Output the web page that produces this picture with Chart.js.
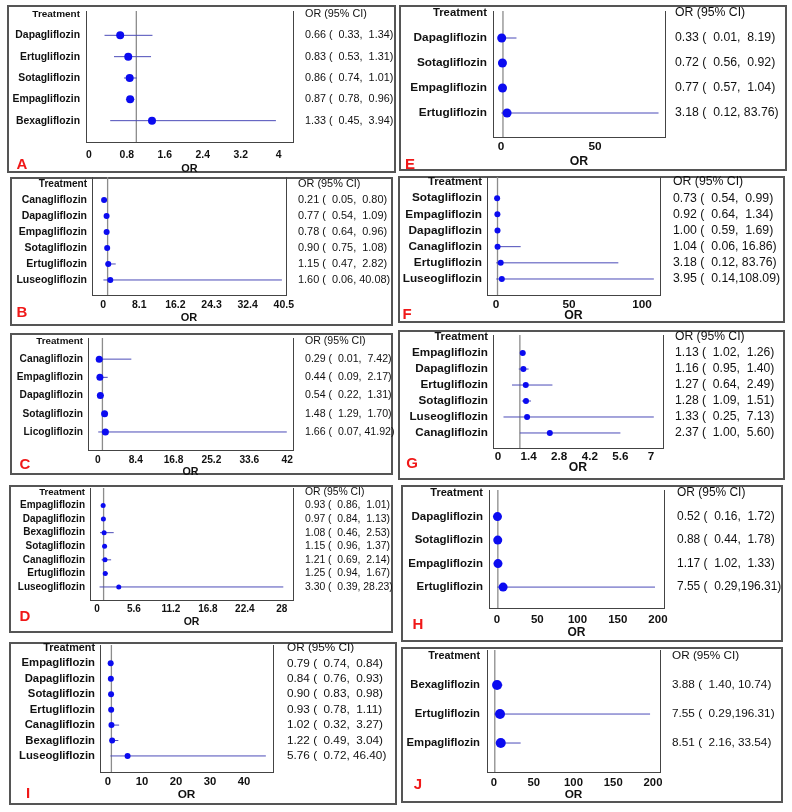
<!DOCTYPE html>
<html lang="en">
<head>
<meta charset="UTF-8">
<title>Forest plots</title>
<script src="https://cdn.jsdelivr.net/npm/chart.js"></script>
<style>
  body { margin: 0; background: #fff; }
  #page { position: relative; width: 792px; height: 812px; overflow: hidden; }
  .box { position: absolute; box-sizing: border-box; border: 2px solid #555; }
  .wrap { position: absolute; }
  .tag { position: absolute; color: #f01818; font: bold 15px "Liberation Sans", Arial, sans-serif; transform: translate(-50%, -50%); }
</style>
</head>
<body>
<div id="page"></div>
<script>
// ---- data ----
const aNames = ['Dapagliflozin', 'Ertugliflozin', 'Sotagliflozin', 'Empagliflozin', 'Bexagliflozin'];
const aOR = [0.66, 0.83, 0.86, 0.87, 1.33];
const aLow = [0.33, 0.53, 0.74, 0.78, 0.45];
const aHigh = [1.34, 1.31, 1.01, 0.96, 3.94];
const aTicks = [0, 0.8, 1.6, 2.4, 3.2, 4];

const bNames = ['Canagliflozin', 'Dapagliflozin', 'Empagliflozin', 'Sotagliflozin', 'Ertugliflozin', 'Luseogliflozin'];
const bOR = [0.21, 0.77, 0.78, 0.90, 1.15, 1.60];
const bLow = [0.05, 0.54, 0.64, 0.75, 0.47, 0.06];
const bHigh = [0.80, 1.09, 0.96, 1.08, 2.82, 40.08];
const bTicks = [0, 8.1, 16.2, 24.3, 32.4, 40.5];

const cNames = ['Canagliflozin', 'Empagliflozin', 'Dapagliflozin', 'Sotagliflozin', 'Licogliflozin'];
const cOR = [0.29, 0.44, 0.54, 1.48, 1.66];
const cLow = [0.01, 0.09, 0.22, 1.29, 0.07];
const cHigh = [7.42, 2.17, 1.31, 1.70, 41.92];
const cTicks = [0, 8.4, 16.8, 25.2, 33.6, 42];

const dNames = ['Empagliflozin', 'Dapagliflozin', 'Bexagliflozin', 'Sotagliflozin', 'Canagliflozin', 'Ertugliflozin', 'Luseogliflozin'];
const dOR = [0.93, 0.97, 1.08, 1.15, 1.21, 1.25, 3.30];
const dLow = [0.86, 0.84, 0.46, 0.96, 0.69, 0.94, 0.39];
const dHigh = [1.01, 1.13, 2.53, 1.37, 2.14, 1.67, 28.23];
const dTicks = [0, 5.6, 11.2, 16.8, 22.4, 28];

const eNames = ['Dapagliflozin', 'Sotagliflozin', 'Empagliflozin', 'Ertugliflozin'];
const eOR = [0.33, 0.72, 0.77, 3.18];
const eLow = [0.01, 0.56, 0.57, 0.12];
const eHigh = [8.19, 0.92, 1.04, 83.76];
const eTicks = [0, 50];

const fNames = ['Sotagliflozin', 'Empagliflozin', 'Dapagliflozin', 'Canagliflozin', 'Ertugliflozin', 'Luseogliflozin'];
const fOR = [0.73, 0.92, 1.00, 1.04, 3.18, 3.95];
const fLow = [0.54, 0.64, 0.59, 0.06, 0.12, 0.14];
const fHigh = [0.99, 1.34, 1.69, 16.86, 83.76, 108.09];
const fTicks = [0, 50, 100];

const gNames = ['Empagliflozin', 'Dapagliflozin', 'Ertugliflozin', 'Sotagliflozin', 'Luseogliflozin', 'Canagliflozin'];
const gOR = [1.13, 1.16, 1.27, 1.28, 1.33, 2.37];
const gLow = [1.02, 0.95, 0.64, 1.09, 0.25, 1.00];
const gHigh = [1.26, 1.40, 2.49, 1.51, 7.13, 5.60];
const gTicks = [0, 1.4, 2.8, 4.2, 5.6, 7];

const hNames = ['Dapagliflozin', 'Sotagliflozin', 'Empagliflozin', 'Ertugliflozin'];
const hOR = [0.52, 0.88, 1.17, 7.55];
const hLow = [0.16, 0.44, 1.02, 0.29];
const hHigh = [1.72, 1.78, 1.33, 196.31];
const hTicks = [0, 50, 100, 150, 200];

const iNames = ['Empagliflozin', 'Dapagliflozin', 'Sotagliflozin', 'Ertugliflozin', 'Canagliflozin', 'Bexagliflozin', 'Luseogliflozin'];
const iOR = [0.79, 0.84, 0.90, 0.93, 1.02, 1.22, 5.76];
const iLow = [0.74, 0.76, 0.83, 0.78, 0.32, 0.49, 0.72];
const iHigh = [0.84, 0.93, 0.98, 1.11, 3.27, 3.04, 46.40];
const iTicks = [0, 10, 20, 30, 40];

const jNames = ['Bexagliflozin', 'Ertugliflozin', 'Empagliflozin'];
const jOR = [3.88, 7.55, 8.51];
const jLow = [1.40, 0.29, 2.16];
const jHigh = [10.74, 196.31, 33.54];
const jTicks = [0, 50, 100, 150, 200];

const nullOR = 1; // reference line

const panels = [
  { id: 'A', names: aNames, or: aOR, lo: aLow, hi: aHigh, ticks: aTicks },
  { id: 'B', names: bNames, or: bOR, lo: bLow, hi: bHigh, ticks: bTicks },
  { id: 'C', names: cNames, or: cOR, lo: cLow, hi: cHigh, ticks: cTicks },
  { id: 'D', names: dNames, or: dOR, lo: dLow, hi: dHigh, ticks: dTicks },
  { id: 'I', names: iNames, or: iOR, lo: iLow, hi: iHigh, ticks: iTicks },
  { id: 'E', names: eNames, or: eOR, lo: eLow, hi: eHigh, ticks: eTicks },
  { id: 'F', names: fNames, or: fOR, lo: fLow, hi: fHigh, ticks: fTicks },
  { id: 'G', names: gNames, or: gOR, lo: gLow, hi: gHigh, ticks: gTicks },
  { id: 'H', names: hNames, or: hOR, lo: hLow, hi: hHigh, ticks: hTicks },
  { id: 'J', names: jNames, or: jOR, lo: jLow, hi: jHigh, ticks: jTicks }
];

// ---- layout (page pixels) ----
// box: panel frame, plot: [left, top, right, bottom] of plot area
const geo = {
  A: { box: [7, 5, 396, 173],   plot: [86, 11, 293, 142],   x: [-0.06, 4.3],  y: [-0.14, 6.0],  tickY: 155, titleY: 169, nameEnd: 80,  ciX: 305, tag: [22, 163],  font: 10.4, r: 4 },
  E: { box: [399, 5, 787, 171], plot: [493, 11, 665, 137],  x: [-4.3, 87.2],  y: [-0.08, 4.96], tickY: 147, titleY: 162, nameEnd: 487, ciX: 675, tag: [410, 163], font: 11.8, r: 4.5 },
  B: { box: [10, 177, 393, 326], plot: [92, 177, 286, 295], x: [-2.5, 41],    y: [-0.44, 6.94], tickY: 305, titleY: 318, nameEnd: 87,  ciX: 298, tag: [22, 311],  font: 10.5, r: 3 },
  F: { box: [398, 176, 785, 323], plot: [487, 177, 660, 295], x: [-6.2, 112.3], y: [-0.31, 6.99], tickY: 305, titleY: 316, nameEnd: 482, ciX: 673, tag: [407, 313], font: 11.8, r: 3 },
  C: { box: [10, 333, 393, 475], plot: [88, 338, 293, 450], x: [-2.2, 43.3],  y: [-0.16, 5.99], tickY: 460, titleY: 472, nameEnd: 83,  ciX: 305, tag: [25, 463],  font: 10.2, r: 3.5 },
  G: { box: [398, 330, 785, 480], plot: [493, 335, 663, 448], x: [-0.23, 7.55], y: [-0.13, 6.94], tickY: 457, titleY: 468, nameEnd: 488, ciX: 675, tag: [412, 462], font: 11.7, r: 3 },
  D: { box: [9, 485, 393, 633],  plot: [90, 488, 293, 600], x: [-1.06, 29.7], y: [-0.29, 7.96], tickY: 609, titleY: 622, nameEnd: 85,  ciX: 305, tag: [25, 615],  font: 10, r: 2.5 },
  H: { box: [401, 485, 783, 642], plot: [489, 490, 664, 608], x: [-10, 207.5], y: [-0.13, 4.89], tickY: 620, titleY: 633, nameEnd: 483, ciX: 677, tag: [418, 623], font: 11.5, r: 4.5 },
  I: { box: [9, 642, 397, 805],  plot: [100, 645, 273, 772], x: [-2.35, 48.5], y: [-0.19, 8.04], tickY: 782, titleY: 795, nameEnd: 95,  ciX: 287, tag: [28, 792],  font: 11.3, r: 3 },
  J: { box: [401, 647, 783, 803], plot: [487, 650, 660, 772], x: [-8.8, 208.8], y: [-0.21, 4.0],  tickY: 783, titleY: 795, nameEnd: 480, ciX: 672, tag: [418, 783], font: 11.3, r: 5 }
};

const FONT = '"Liberation Sans", Arial, Helvetica, sans-serif';
const page = document.getElementById('page');

function ciText(o, l, h) {
  const pad = v => { const s = v.toFixed(2); return ' '.repeat(Math.max(0, 6 - s.length)) + s; };
  return o.toFixed(2) + ' (' + pad(l) + ',' + pad(h) + ')';
}

function place(el, x, y, w, h) {
  el.style.left = x + 'px';
  el.style.top = y + 'px';
  if (w != null) { el.style.width = w + 'px'; el.style.height = h + 'px'; }
}

function makePanel(p) {
  const g = geo[p.id];
  const [x0, y0, x1, y1] = g.box;
  const [L, T, R, B] = g.plot;
  const f = g.font;

  const box = document.createElement('div');
  box.className = 'box';
  place(box, x0, y0, x1 - x0, y1 - y0);
  page.appendChild(box);

  // canvas a bit larger than the frame so labels near the edges are not cut
  const m = 10;
  const cx = x0 - m, cy = y0 - m, W = x1 - x0 + 2 * m, H = y1 - y0 + 2 * m;
  const wrap = document.createElement('div');
  wrap.className = 'wrap';
  place(wrap, cx, cy, W, H);
  const cv = document.createElement('canvas');
  wrap.appendChild(cv);
  page.appendChild(wrap);

  const tag = document.createElement('div');
  tag.className = 'tag';
  tag.textContent = p.id;
  place(tag, g.tag[0], g.tag[1]);
  page.appendChild(tag);

  const rowIdx = p.names.map((_, i) => i + 1);
  const yTicks = [0].concat(rowIdx);

  const datasets = [];
  datasets.push({
    data: p.or.map((v, i) => ({ x: v, y: i + 1 })),
    pointRadius: g.r,
    pointBackgroundColor: '#0b0bf0',
    pointBorderWidth: 0,
    showLine: false
  });
  p.lo.forEach((l, i) => {
    datasets.push({
      data: [{ x: l, y: i + 1 }, { x: p.hi[i], y: i + 1 }],
      showLine: true,
      borderColor: '#4b4bb8',
      borderWidth: 1,
      pointRadius: 0
    });
  });
  datasets.push({
    data: [{ x: nullOR, y: g.y[0] }, { x: nullOR, y: g.y[1] }],
    showLine: true,
    borderColor: '#8c8c8c',
    borderWidth: 1.3,
    pointRadius: 0
  });

  const axisLine = { display: true, color: '#444', width: 1 };

  new Chart(cv, {
    type: 'scatter',
    data: { datasets: datasets },
    options: {
      responsive: true,
      maintainAspectRatio: false,
      devicePixelRatio: 1,
      animation: false,
      layout: { padding: { top: T - cy, left: 0, right: 0, bottom: 0 } },
      plugins: { legend: { display: false }, tooltip: { enabled: false } },
      scales: {
        x: {
          type: 'linear',
          min: g.x[0],
          max: g.x[1],
          afterBuildTicks: s => { s.ticks = p.ticks.map(v => ({ value: v })); },
          afterFit: s => { s.height = (cy + H) - B; s.paddingLeft = 0; s.paddingRight = 0; },
          grid: { display: false, drawTicks: false },
          border: axisLine,
          ticks: {
            autoSkip: false, maxRotation: 0,
            padding: g.tickY - B - f * 0.6,
            color: '#111',
            font: { family: FONT, size: f, weight: 'bold' },
            callback: v => String(v)
          },
          title: {
            display: true, text: 'OR', color: '#111',
            font: { family: FONT, size: f + 0.5, weight: 'bold' },
            padding: { top: 0, bottom: (cy + H) - g.titleY - (f + 0.5) * 0.6 }
          }
        },
        y: {
          type: 'linear',
          position: 'left',
          reverse: true,
          min: g.y[0],
          max: g.y[1],
          afterBuildTicks: s => { s.ticks = yTicks.map(v => ({ value: v })); },
          afterFit: s => { s.width = L - cx; s.paddingTop = 0; s.paddingBottom = 0; },
          grid: { display: false, drawTicks: false },
          border: axisLine,
          ticks: {
            autoSkip: false,
            padding: L - g.nameEnd,
            color: '#111',
            font: c => ({ family: FONT, size: c.index === 0 ? f * 0.96 : f, weight: 'bold' }),
            callback: (v, i) => (i === 0 ? 'Treatment' : p.names[i - 1])
          }
        },
        y2: {
          type: 'linear',
          position: 'right',
          reverse: true,
          min: g.y[0],
          max: g.y[1],
          afterBuildTicks: s => { s.ticks = yTicks.map(v => ({ value: v })); },
          afterFit: s => { s.width = (cx + W) - R; s.paddingTop = 0; s.paddingBottom = 0; },
          grid: { display: false, drawTicks: false },
          border: axisLine,
          ticks: {
            autoSkip: false,
            padding: g.ciX - R,
            color: '#111',
            font: { family: FONT, size: f * 1.04 },
            callback: (v, i) => (i === 0 ? 'OR (95% CI)' : ciText(p.or[i - 1], p.lo[i - 1], p.hi[i - 1]))
          }
        }
      }
    }
  });
}

panels.forEach(makePanel);
</script>
</body>
</html>
